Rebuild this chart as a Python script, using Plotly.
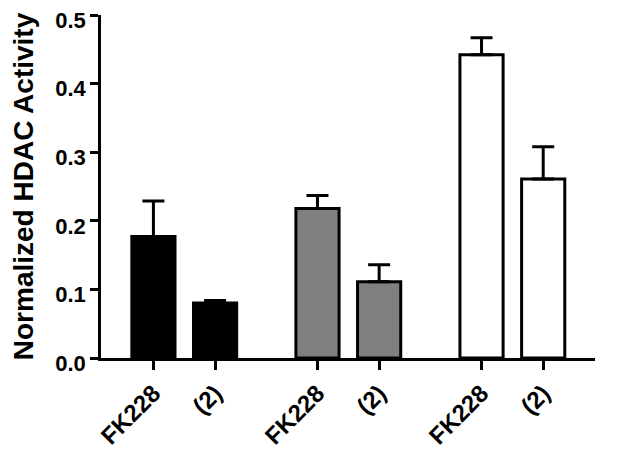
import plotly.graph_objects as go

categories = ["FK228", "(2)", "FK228", "(2)", "FK228", "(2)"]
positions = [0, 1, 2.66, 3.66, 5.32, 6.32]
values = [0.177, 0.080, 0.218, 0.111, 0.442, 0.261]
errors = [0.052, 0.004, 0.019, 0.025, 0.025, 0.047]
colors = ["#000000", "#000000", "#808080", "#808080", "#ffffff", "#ffffff"]
y_ticks = [0.0, 0.1, 0.2, 0.3, 0.4, 0.5]
y_ticktext = ["0.0", "0.1", "0.2", "0.3", "0.4", "0.5"]

font_family = "Liberation Sans, Arial, sans-serif"

fig = go.Figure()
fig.add_trace(go.Bar(
    x=positions,
    y=values,
    width=0.7,
    marker=dict(color=colors, line=dict(color="black", width=3)),
    error_y=dict(type="data", array=errors, arrayminus=[0] * len(errors),
                 symmetric=False, color="black", thickness=3, width=11),
    showlegend=False,
))

# the page body adds an 8px offset, so the figure is 8px smaller on each side
fig.update_layout(
    width=616, height=447,
    margin=dict(l=93, r=29, t=7, b=97),
    plot_bgcolor="white", paper_bgcolor="white",
    font=dict(family=font_family, color="black"),
    xaxis=dict(
        range=[-0.85, 7.16],
        tickvals=positions,
        ticktext=["<b>%s</b>" % c for c in categories],
        tickangle=-45,
        tickfont=dict(size=24, family=font_family, color="black"),
        showline=True, linecolor="black", linewidth=2.5,
        ticks="outside", ticklen=9, tickwidth=2.5, tickcolor="black",
        showgrid=False, zeroline=False, automargin=False,
        ticklabeloverflow="allow",
    ),
    yaxis=dict(
        range=[0, 0.5],
        tickvals=y_ticks,
        ticktext=["<b>%s</b>" % t for t in y_ticktext],
        tickfont=dict(size=22, family=font_family, color="black"),
        title=dict(text="<b>Normalized HDAC Activity</b>",
                   font=dict(size=28, family=font_family, color="black"),
                   standoff=16),
        showline=True, linecolor="black", linewidth=2.5,
        ticks="outside", ticklen=8, tickwidth=2.5, tickcolor="black",
        showgrid=False, zeroline=False, automargin=False,
        ticklabeloverflow="allow", ticklabelshift=5,
    ),
)

fig.write_html("out.html")
